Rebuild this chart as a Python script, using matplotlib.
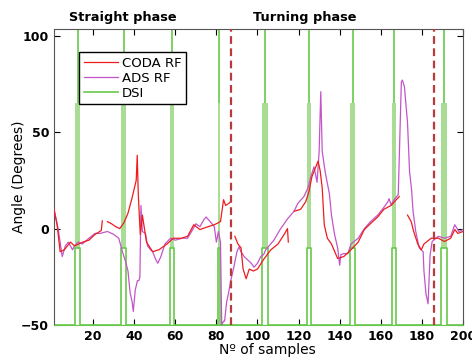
import numpy as np
import matplotlib
matplotlib.use("Agg")
import matplotlib.pyplot as plt

plt.rcParams["font.family"] = "DejaVu Sans"
plt.rcParams["font.weight"] = "bold"
plt.rcParams["xtick.direction"] = "in"
plt.rcParams["ytick.direction"] = "in"

# CODA RF (red) -- nan marks gaps in the recording
coda_x = [1, 2.5, 4, 6, 9, 11, 13, 15, 18, 21, 24, 24.5, 25,
          27, 29, 31, 33, 35, 37, 39, 41, 41.5, 42, 42.5, 43, 44, 46, 49,
          52, 56, 59, 63, 66, 69, 72, 76, 79, 82, 83.5, 84.5, 86, 87, 87.5,
          89, 90.5, 92, 93, 94.5, 96, 98, 100, 103, 106.5, 110, 113, 114.6, 115,
          116, 118, 121, 123.5, 125, 126.5, 128, 129.5, 130.5, 131.5, 132.5,
          134, 136, 139, 142, 145.5, 149, 152, 155, 158.5, 161.5, 165, 168, 169,
          171, 173, 174.8, 176, 178, 179.7, 181, 184.5, 188, 191, 194, 196,
          197.5, 200]
coda_y = [10, 2, -12, -11, -7, -9, -8, -7, -6, -3, -1, 4, np.nan,
          3.6, 2.5, 1, 0, 3, 8, 16, 25, 38, 18, 7, -3, 7, -7, -12,
          -11, -8, -5, -5, -4, 2, -0.5, 1, 2, 3.6, 15, 12, 13, 14, np.nan,
          -4, -8, -10, -21, -26, -21, -22, -21, -16, -11, -8, -3, 0, -7,
          np.nan, 9, 10, 14, 19, 27, 31, 35, 30, 21, 2,
          -5, -8, -15.5, -14.5, -11, -7, -0.5, 2.6, 6, 10, 12, 15.5, 16.6,
          np.nan, 7, 3.6, -1.5, -8, -11, -8, -5, -5, -6.7, -5, -0.5,
          -2.5, -1.5]

# ADS RF (violet)
ads_x = [1, 3, 5, 6.5, 8, 10, 11, 12.8, 14.8, 18, 21, 23.5, 27, 30,
         32.5, 34.3, 35.8, 37, 38, 39, 39.6, 40.5, 41.6, 42.3, 42.8, 43.3,
         44, 45.5, 46.5, 48, 49, 50.5, 51.5, 53, 55, 57.7, 60, 63.5, 66,
         68.5, 70, 72, 74, 75, 77, 79, 80, 81, 82, 82.6, 83.5, 84, 85, 86,
         87, 88.5, 90, 91, 92, 93.5, 95, 97, 98.3, 100, 101.6, 103, 104,
         108, 111, 114.6, 117.8, 119.6, 122.6, 124.5, 126, 127.5, 129, 130,
         130.8, 131.5, 133, 135, 136, 137.5, 139, 140, 140.6, 142, 144,
         145.5, 149, 152, 155, 158.5, 161.5, 163.5, 164, 165, 166.5, 168.5,
         170, 170.5, 171.5, 173, 174, 175, 175.7, 177, 178.7, 180.6, 181,
         182, 183, 184, 185, 188, 191, 194, 196, 198, 200]
ads_y = [10, 0, -14.5, -9, -7, -11, -9, -7, -8, -5, -2.5, -2.5, -1.5, -3,
         -5, -12, -17, -22, -33, -38, -43, -32, -27, -27, -25, 12,
         -1.5, -2.5, -9, -11, -12, -16, -18, -14.5, -8, -5, -6, -5, -5,
         -0.5, 2.5, 1, 4.7, 6, 3.6, 1, -7, -1.5, -7, -50, -48, -48, -38, -33,
         -27, -20, -12, -9.5, -12, -14.5, -16, -18, -20, -18, -14.5, -13.5, -11,
         -6, -0.5, 5, 9, 13, 16.6, 21, 27, 32, 24, 40,
         71, 40, 29, 18, 7, -3, -10, -19, -13.5, -13, -13,
         -8, -5, 0, 3.6, 7, 11, 14, 15.5, 12.4, 15, 17.6,
         76, 77, 73.6, 55, 29.5, 20, 9, -1.5, -10, -12, -22,
         -34, -39, -13.5, -6.7, -4, -5, -4, 2, -1.5, -0.5]

# DSI pulses (sample where the pulse starts / ends)
dsi_on = [11.4, 33.8, 57.2, 80.6, 102.0, 124.0, 145.0, 165.5, 189.5]
dsi_off = [13.8, 36.2, 59.2, 82.0, 105.0, 126.0, 147.5, 167.5, 192.0]

# phase boundaries
phase_marks = [87.0, 186.0]

fig = plt.figure(figsize=(4.72, 3.6), dpi=100)
ax = fig.add_axes([54 / 472, 35 / 360, 409 / 472, 296 / 360])

# DSI: baseline with bottom edges, pale band, single line above
dsi_x, dsi_y = [0], [-50]
for a, b in zip(dsi_on, dsi_off):
    dsi_x += [a, a, b, b]
    dsi_y += [-50, -10, -10, -50]
dsi_x.append(201)
dsi_y.append(-50)
ax.plot(dsi_x, dsi_y, color="#66c84a", lw=1.2, label="DSI", zorder=2)
for a, b in zip(dsi_on, dsi_off):
    ax.fill_betweenx([-10, 65], a, b, color="#a9dc94", lw=0, zorder=1)
ax.vlines([(a + b) / 2 for a, b in zip(dsi_on, dsi_off)], 65, 110,
          color="#66c84a", lw=1.2, zorder=2)

ax.plot(coda_x, coda_y, color="#ee1c1c", lw=0.9, label="CODA RF", zorder=4)
ax.plot(ads_x, ads_y, color="#c355c8", lw=0.9, label="ADS RF", zorder=3)

for xm in phase_marks:
    ax.axvline(xm, color="#b83a3a", lw=1.6, ls=(0, (3.5, 2)), zorder=5)

ax.set_xlim(1, 200)
ax.set_ylim(-50, 103.5)
ax.set_xticks(np.arange(20, 201, 20))
ax.set_yticks([-50, 0, 50, 100])
ax.tick_params(top=True, right=True, labelsize=9, length=4, width=0.8)
for s in ["left", "right", "top"]:
    ax.spines[s].set_color("#555555")
ax.spines["bottom"].set_color("#66c84a")

ax.set_ylabel("Angle (Degrees)", fontsize=10)
ax.yaxis.set_label_coords(-0.068, 0.5)
ax.set_xlabel("Nº of samples", fontsize=10)
ax.xaxis.set_label_coords((267 - 54) / 409, -0.062)

handles, labels = ax.get_legend_handles_labels()
order = [1, 2, 0]
leg = ax.legend([handles[i] for i in order], [labels[i] for i in order],
                loc="upper left", bbox_to_anchor=(0.061, 0.922),
                borderaxespad=0, fancybox=False, framealpha=1,
                edgecolor="black", prop={"size": 9.5, "weight": "normal"},
                handlelength=2.6, labelspacing=0.15, handletextpad=0.3,
                borderpad=0.35)
leg.get_frame().set_linewidth(1.0)
leg.set_zorder(10)

fig.text(123 / 472, 1 - 17 / 360, "Straight phase", fontsize=9.3,
         ha="center", va="center")
fig.text(305 / 472, 1 - 17 / 360, "Turning phase", fontsize=9.3,
         ha="center", va="center")

fig.savefig("out.png", dpi=100)
